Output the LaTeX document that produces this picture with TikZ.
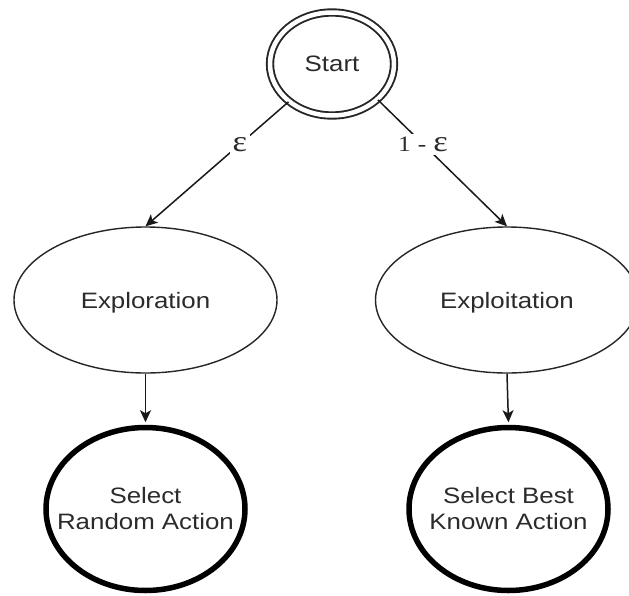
\documentclass[tikz,border=0pt]{standalone}
\usepackage{fontspec}
\usepackage{graphicx}
\setmainfont{Liberation Sans}[FakeStretch=1.16]
\newfontfamily\labfont{Liberation Serif}[FakeStretch=1.16]
\usetikzlibrary{shapes.geometric,arrows.meta}
\definecolor{txt}{HTML}{2B2B2B}
\newcommand{\epsglyph}{\scalebox{1.35}{ε}}
\begin{document}
\begin{tikzpicture}[x=1pt,y=-1pt,
 base/.style={ellipse, inner sep=0pt, text=txt, font=\fontsize{22.3}{26}\selectfont, align=center},
 startnode/.style={base, draw=black!85, line width=1.9pt, double, double distance=4.5pt, minimum width=124pt, minimum height=103pt},
 phase/.style={base, draw=black!85, line width=1.4pt, minimum width=263pt, minimum height=146pt, text depth=0pt},
 action/.style={base, draw=black, line width=5.5pt, minimum width=199pt, minimum height=163pt},
 actiontext/.style={inner sep=0pt, text=txt, font=\fontsize{22.3}{26}\selectfont, align=center},
 conn/.style={draw=black!90, line width=1.5pt, -{Stealth[length=12pt,width=11pt,inset=3pt]}},
 lab/.style={fill=white, text=txt, font=\labfont\fontsize{22}{24}\selectfont, inner sep=3pt}]
\useasboundingbox (0,0) rectangle (629,595);
\fill[white] (0,0) rectangle (629,595);
\clip (0,0) rectangle (629,595);

\node[startnode] (start) at (332,64) {Start};
\node[phase] (expl) at (145.5,300) {Exploration};
\node[phase] (expt) at (507,300) {Exploitation};
\node[action] (rand) at (145.5,509) {};
\node[action] (best) at (508.5,509) {};
\node[actiontext] (randtext) at (rand.center) {Select\\Random Action};
\node[actiontext] (besttext) at (best.center) {Select Best\\Known Action};

\draw[conn] (start) -- node[lab,pos=0.34] {\epsglyph} (expl.north);
\draw[conn] (start.-38) -- node[lab,pos=0.35] {1\hspace{7pt}-\hspace{7pt}\epsglyph} (expt.north);
\draw[conn, shorten >=2.5pt] (expl.south) -- (rand.north);
\draw[conn, shorten >=2.5pt] (expt.south) -- (best.north);
\end{tikzpicture}
\end{document}
